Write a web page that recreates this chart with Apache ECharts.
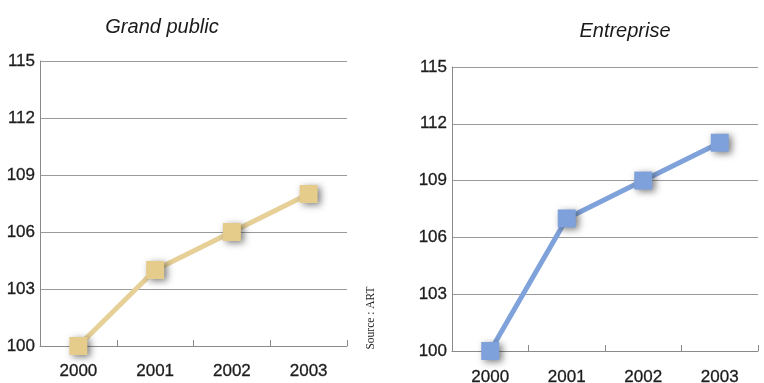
<!DOCTYPE html>
<html>
<head>
<meta charset="utf-8">
<script src="https://cdn.jsdelivr.net/npm/echarts@6/dist/echarts.min.js"></script>
<style>
  html, body { margin: 0; padding: 0; background: #fff; }
  #chart { width: 764px; height: 383px; }
</style>
</head>
<body>
<div id="chart"></div>
<script>
// Index values (base 100 in 2000)
const years = ['2000', '2001', '2002', '2003'];
const grandPublic = [100, 104, 106, 108];
const entreprise = [100, 107, 109, 111];
const yMin = 100, yMax = 115, yStep = 3;
const panelTitles = ['Grand public', 'Entreprise'];
const sourceText = 'Source : ART';

const chart = echarts.init(document.getElementById('chart'), null, { renderer: 'canvas' });

const numberFont = {
  color: '#1c1c1c',
  fontSize: 17,
  fontFamily: 'Liberation Sans, Arial, sans-serif',
  textBorderColor: '#1c1c1c',
  textBorderWidth: 0.3
};

function xAxisFor(gridIndex, margin) {
  return {
    type: 'category',
    gridIndex,
    data: years,
    boundaryGap: true,
    axisLine: { show: true, lineStyle: { color: '#8a8a8a', width: 1 } },
    axisTick: { show: true, inside: true, length: 6, lineStyle: { color: '#8a8a8a' } },
    axisLabel: Object.assign({ margin }, numberFont),
    splitLine: { show: false }
  };
}

function yAxisFor(gridIndex) {
  return {
    type: 'value',
    gridIndex,
    min: yMin, max: yMax, interval: yStep,
    axisLine: { show: true, lineStyle: { color: '#8a8a8a', width: 1 } },
    axisTick: { show: false },
    axisLabel: Object.assign({ margin: 5 }, numberFont),
    splitLine: { show: true, lineStyle: { color: '#9a9a9a', width: 1 } }
  };
}

function lineSeries(idx, data, lineColor, markColor) {
  return {
    type: 'line',
    xAxisIndex: idx,
    yAxisIndex: idx,
    data,
    symbol: 'rect',
    symbolSize: 18,
    lineStyle: { color: lineColor, width: 5 },
    itemStyle: {
      color: markColor,
      shadowColor: 'rgba(40,40,40,0.6)',
      shadowBlur: 7,
      shadowOffsetX: 3,
      shadowOffsetY: 2
    },
    emphasis: { disabled: true },
    animation: false,
    z: 3
  };
}

const titleStyle = {
  fontSize: 20,
  fontStyle: 'italic',
  fontWeight: 'normal',
  color: '#1a1a1a',
  fontFamily: 'Liberation Sans, Arial, sans-serif'
};

chart.setOption({
  backgroundColor: '#fff',
  animation: false,
  title: [
    { text: panelTitles[0], left: 157, top: 12, textAlign: 'center', textStyle: titleStyle },
    { text: panelTitles[1], left: 620, top: 16, textAlign: 'center', textStyle: titleStyle }
  ],
  grid: [
    { left: 40, right: 417, top: 61, bottom: 37, outerBoundsMode: 'none' },
    { left: 452, right: 6, top: 67, bottom: 32, outerBoundsMode: 'none' }
  ],
  xAxis: [xAxisFor(0, 17), xAxisFor(1, 18)],
  yAxis: [yAxisFor(0), yAxisFor(1)],
  series: [
    lineSeries(0, grandPublic, '#e6d098', '#e6cc8a'),
    lineSeries(1, entreprise, '#7fa2da', '#7ea1db')
  ],
  graphic: [
    {
      type: 'text',
      x: 371, y: 318,
      rotation: Math.PI / 2,
      style: {
        text: sourceText,
        fontSize: 11.5,
        fontFamily: 'Liberation Serif, Times New Roman, serif',
        fill: '#222',
        align: 'center',
        verticalAlign: 'middle'
      }
    }
  ]
});
</script>
</body>
</html>
